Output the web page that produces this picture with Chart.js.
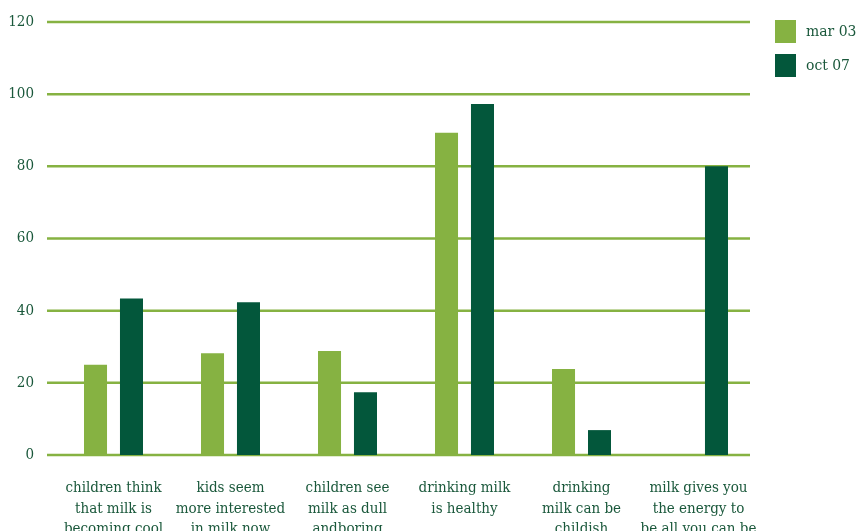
<!DOCTYPE html>
<html><head><meta charset="utf-8">
<script src="https://cdn.jsdelivr.net/npm/chart.js@4.4.1/dist/chart.umd.min.js"></script>
<style>html,body{margin:0;padding:0;background:#fff;overflow:hidden}#wrap{width:856px;height:531px;position:relative}</style>
</head><body><div id="wrap"><canvas id="c" width="856" height="531"></canvas></div>
<script>
const categories = [
  ["children think", "that milk is", "becoming cool"],
  ["kids seem", "more interested", "in milk now"],
  ["children see", "milk as dull", "andboring"],
  ["drinking milk", "is healthy"],
  ["drinking", "milk can be", "childish"],
  ["milk gives you", "the energy to", "be all you can be"]
];
const seriesNames = ["mar 03", "oct 07"];
const mar03 = [25, 28.2, 28.8, 89.3, 23.8, null];
const oct07 = [43.4, 42.3, 17.4, 97.3, 6.9, 80];
const yTicks = [0, 20, 40, 60, 80, 100, 120];

const LIGHT = '#86b242', DARK = '#03573b', TEXT = '#1a583b';
const FONT = "'DejaVu Serif Condensed', 'DejaVu Serif', serif";

const gridPlugin = {
  id: 'customGrid',
  beforeDatasetsDraw(chart) {
    const ctx = chart.ctx, y = chart.scales.y, a = chart.chartArea;
    ctx.save();
    ctx.strokeStyle = LIGHT;
    ctx.lineWidth = 2.5;
    yTicks.forEach(v => {
      const py = y.getPixelForValue(v);
      ctx.beginPath();
      ctx.moveTo(a.left - 8, py);
      ctx.lineTo(a.right - 7, py);
      ctx.stroke();
    });
    ctx.restore();
  }
};
const legendPlugin = {
  id: 'customLegend',
  afterDraw(chart) {
    const ctx = chart.ctx;
    ctx.save();
    ctx.font = "15.5px " + FONT;
    ctx.textBaseline = 'middle';
    chart.data.datasets.forEach((ds, i) => {
      const top = 20 + 34 * i;
      ctx.fillStyle = ds.backgroundColor;
      ctx.fillRect(775, top, 21, 23);
      ctx.fillStyle = TEXT;
      ctx.fillText(ds.label, 806, top + 12);
    });
    ctx.restore();
  }
};

new Chart(document.getElementById('c'), {
  type: 'bar',
  data: {
    labels: categories,
    datasets: [
      { label: seriesNames[0], data: mar03, backgroundColor: LIGHT },
      { label: seriesNames[1], data: oct07, backgroundColor: DARK }
    ]
  },
  options: {
    responsive: false,
    animation: false,
    layout: { padding: { left: 0, right: 99, top: 22, bottom: 0 } },
    datasets: { bar: { categoryPercentage: 0.615, barPercentage: 0.64 } },
    plugins: { legend: { display: false }, tooltip: { enabled: false } },
    scales: {
      x: {
        grid: { display: false, drawTicks: false },
        border: { display: false },
        ticks: { color: TEXT, font: { family: FONT, size: 15, lineHeight: 1.37 }, padding: 23, maxRotation: 0, autoSkip: false },
        afterFit(s) { s.height = 76; s.paddingLeft = 0; s.paddingRight = 0; }
      },
      y: {
        min: 0, max: 120,
        grid: { display: false, drawTicks: false },
        border: { display: false },
        afterBuildTicks(s) { s.ticks = yTicks.map(v => ({ value: v })); },
        ticks: { color: TEXT, font: { family: FONT, size: 15 }, padding: 21 },
        afterFit(s) { s.width = 55; s.paddingTop = 0; s.paddingBottom = 0; }
      }
    }
  },
  plugins: [gridPlugin, legendPlugin]
});
</script></body></html>
